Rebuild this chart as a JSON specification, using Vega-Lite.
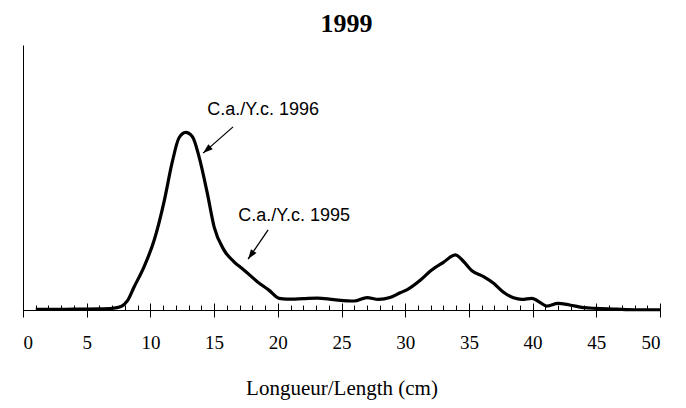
{
  "$schema": "https://vega.github.io/schema/vega-lite/v6.json",
  "autosize": {"type": "none"},
  "width": 637,
  "height": 265,
  "padding": {"left": 23, "top": 45, "right": 26, "bottom": 98},
  "background": "white",
  "title": {
    "text": "1999",
    "font": "Liberation Serif",
    "fontSize": 26,
    "fontWeight": "bold",
    "color": "black",
    "anchor": "middle",
    "baseline": "alphabetic",
    "offset": -13,
    "dx": 5
  },
  "config": {
    "view": {"stroke": null},
    "axis": {
      "domainColor": "black",
      "domainWidth": 1,
      "tickColor": "black",
      "tickWidth": 1,
      "grid": false,
      "labelFont": "Liberation Serif",
      "titleFont": "Liberation Serif",
      "labelColor": "black",
      "titleColor": "black"
    }
  },
  "datasets": {
    "curve": [
      {"length": 1.0, "value": 0.2},
      {"length": 2.0, "value": 0.2},
      {"length": 4.0, "value": 0.3},
      {"length": 6.0, "value": 0.4},
      {"length": 7.0, "value": 0.6},
      {"length": 7.7, "value": 1.3},
      {"length": 8.2, "value": 3.5},
      {"length": 8.7, "value": 8.5},
      {"length": 9.5, "value": 16.3},
      {"length": 10.3, "value": 26.4},
      {"length": 11.1, "value": 41.5},
      {"length": 11.7, "value": 55.5},
      {"length": 12.25, "value": 65.0},
      {"length": 12.77, "value": 67.0},
      {"length": 13.3, "value": 65.4},
      {"length": 13.82, "value": 57.8},
      {"length": 14.47, "value": 44.0},
      {"length": 15.0, "value": 31.4},
      {"length": 15.78, "value": 22.6},
      {"length": 16.56, "value": 18.2},
      {"length": 17.34, "value": 15.1},
      {"length": 18.39, "value": 10.7},
      {"length": 19.3, "value": 7.5},
      {"length": 20.1, "value": 4.4},
      {"length": 20.7, "value": 4.1},
      {"length": 22.0, "value": 4.3},
      {"length": 23.1, "value": 4.5},
      {"length": 24.4, "value": 3.9},
      {"length": 26.0, "value": 3.4},
      {"length": 27.0, "value": 4.7},
      {"length": 27.9, "value": 4.0},
      {"length": 28.8, "value": 4.7},
      {"length": 29.6, "value": 6.5},
      {"length": 30.2, "value": 7.8},
      {"length": 31.2, "value": 11.3},
      {"length": 32.0, "value": 14.8},
      {"length": 33.0, "value": 18.0},
      {"length": 33.94, "value": 20.8},
      {"length": 34.6, "value": 18.2},
      {"length": 35.24, "value": 14.8},
      {"length": 36.15, "value": 12.6},
      {"length": 36.94, "value": 10.1},
      {"length": 37.72, "value": 6.7},
      {"length": 38.5, "value": 4.6},
      {"length": 39.16, "value": 4.0},
      {"length": 39.94, "value": 4.4},
      {"length": 40.6, "value": 2.8},
      {"length": 41.1, "value": 1.5},
      {"length": 42.0, "value": 2.5},
      {"length": 42.9, "value": 1.9},
      {"length": 44.0, "value": 0.9},
      {"length": 45.0, "value": 0.6},
      {"length": 46.6, "value": 0.3},
      {"length": 48.0, "value": 0.1},
      {"length": 50.0, "value": 0.1}
    ],
    "labels": [
      {"text": "C.a./Y.c. 1996", "length": 18.85, "value": 75.5},
      {"text": "C.a./Y.c. 1995", "length": 21.28, "value": 35.5}
    ],
    "arrows": [
      {"cohort": "1996", "x1": 16.49, "y1": 69.1, "x2": 14.14, "y2": 59.2},
      {"cohort": "1995", "x1": 19.24, "y1": 30.2, "x2": 17.67, "y2": 19.2}
    ]
  },
  "resolve": {"axis": {"x": "independent"}},
  "layer": [
    {
      "data": {"name": "curve"},
      "mark": {"type": "line", "color": "black", "strokeWidth": 3.2, "interpolate": "monotone", "strokeJoin": "round", "strokeCap": "butt"},
      "encoding": {
        "x": {
          "field": "length", "type": "quantitative",
          "scale": {"domain": [0, 50], "nice": false, "zero": false},
          "axis": {
            "orient": "bottom",
            "values": [0, 5, 10, 15, 20, 25, 30, 35, 40, 45, 50],
            "tickSize": 7,
            "labelFontSize": 19,
            "labelBaseline": "alphabetic",
            "labelPadding": 31,
            "title": "Longueur/Length  (cm)",
            "titleFontSize": 21,
            "titleFontWeight": "normal",
            "titlePadding": 25
          }
        },
        "y": {
          "field": "value", "type": "quantitative",
          "scale": {"domain": [0, 100], "nice": false},
          "axis": {"labels": false, "ticks": false, "title": null, "domain": true}
        }
      }
    },
    {
      "data": {"name": "curve"},
      "mark": {"type": "point", "opacity": 0},
      "encoding": {
        "x": {
          "field": "length", "type": "quantitative",
          "axis": {
            "orient": "top",
            "offset": -265,
            "domain": false,
            "labels": false,
            "title": null,
            "values": [0,1,2,3,4,5,6,7,8,9,10,11,12,13,14,15,16,17,18,19,20,21,22,23,24,25,26,27,28,29,30,31,32,33,34,35,36,37,38,39,40,41,42,43,44,45,46,47,48,49,50],
            "tickSize": {"condition": {"test": "datum.value % 5 === 0", "value": 7}, "value": 5}
          }
        },
        "y": {"field": "value", "type": "quantitative"}
      }
    },
    {
      "data": {"name": "labels"},
      "mark": {"type": "text", "font": "Liberation Sans", "fontSize": 18, "color": "black", "align": "center", "baseline": "middle"},
      "encoding": {
        "x": {"field": "length", "type": "quantitative", "axis": null},
        "y": {"field": "value", "type": "quantitative"},
        "text": {"field": "text"}
      }
    },
    {
      "data": {"name": "arrows"},
      "mark": {"type": "rule", "color": "black", "strokeWidth": 1.3},
      "encoding": {
        "x": {"field": "x1", "type": "quantitative", "axis": null},
        "y": {"field": "y1", "type": "quantitative"},
        "x2": {"field": "x2"},
        "y2": {"field": "y2"}
      }
    },
    {
      "data": {"name": "arrows"},
      "transform": [{"filter": "datum.cohort === '1996'"}],
      "mark": {"type": "point", "shape": "M0,0 L0.55,1.6 L-0.55,1.6 Z", "size": 150, "filled": true, "color": "black", "opacity": 1, "angle": 229},
      "encoding": {
        "x": {"field": "x2", "type": "quantitative", "axis": null},
        "y": {"field": "y2", "type": "quantitative"}
      }
    },
    {
      "data": {"name": "arrows"},
      "transform": [{"filter": "datum.cohort === '1995'"}],
      "mark": {"type": "point", "shape": "M0,0 L0.55,1.6 L-0.55,1.6 Z", "size": 150, "filled": true, "color": "black", "opacity": 1, "angle": 215},
      "encoding": {
        "x": {"field": "x2", "type": "quantitative", "axis": null},
        "y": {"field": "y2", "type": "quantitative"}
      }
    }
  ]
}
